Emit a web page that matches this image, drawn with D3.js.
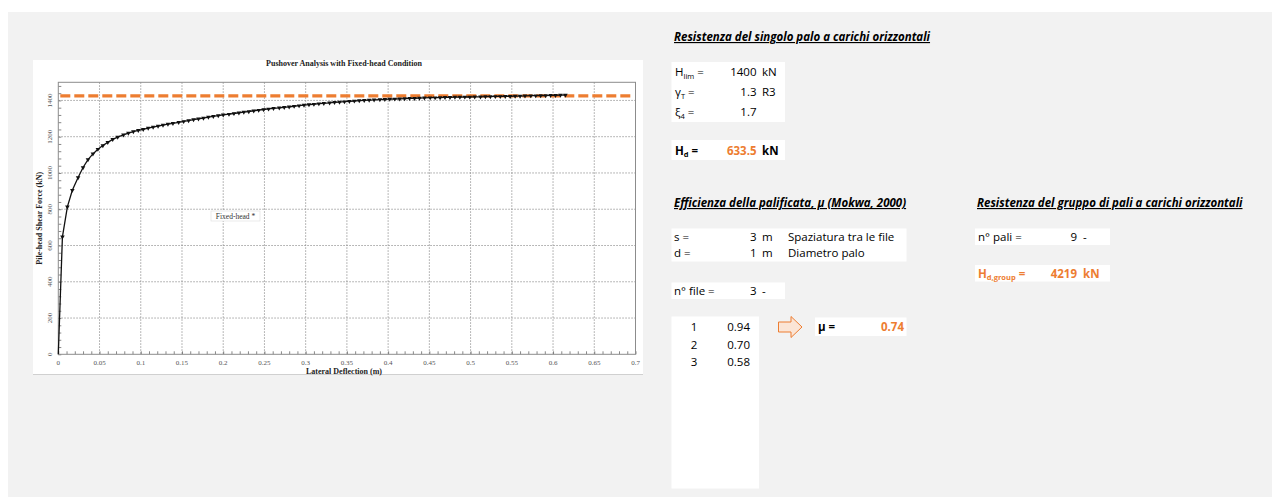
<!DOCTYPE html>
<html>
<head>
<meta charset="utf-8">
<script src="https://cdn.jsdelivr.net/npm/d3@7"></script>
<style>
  body { margin: 0; background: #ffffff; }
  svg { display: block; }
</style>
</head>
<body>
<div id="sheet"></div>
<script>
// pushover curve, lateral deflection (m) and pile-head shear force (kN)
var deflection = [0, 0.005, 0.011, 0.017, 0.024, 0.030, 0.036, 0.042, 0.048, 0.054, 0.060,
  0.066, 0.072, 0.079, 0.085, 0.091, 0.097, 0.103, 0.109, 0.115, 0.121, 0.127, 0.133,
  0.139, 0.146, 0.152, 0.158, 0.164, 0.170, 0.176, 0.182, 0.188, 0.194, 0.200, 0.207,
  0.213, 0.219, 0.225, 0.231, 0.237, 0.243, 0.249, 0.255, 0.261, 0.268, 0.274, 0.280,
  0.286, 0.292, 0.298, 0.304, 0.310, 0.316, 0.322, 0.329, 0.335, 0.341, 0.347, 0.353,
  0.359, 0.365, 0.371, 0.377, 0.383, 0.390, 0.396, 0.402, 0.408, 0.414, 0.420, 0.426,
  0.432, 0.438, 0.444, 0.451, 0.457, 0.463, 0.469, 0.475, 0.481, 0.487, 0.493, 0.499,
  0.505, 0.512, 0.518, 0.524, 0.530, 0.536, 0.542, 0.548, 0.554, 0.560, 0.566, 0.573,
  0.579, 0.585, 0.591, 0.597, 0.603, 0.609, 0.615];
var shearForce = [0, 648, 813, 905, 975, 1030, 1074, 1105, 1131, 1151, 1169,
  1185, 1198, 1210, 1220, 1228, 1235, 1241, 1247, 1253, 1258, 1264, 1269,
  1274, 1279, 1284, 1289, 1294, 1299, 1303, 1308, 1312, 1316, 1320, 1324,
  1328, 1332, 1336, 1339, 1343, 1346, 1350, 1353, 1356, 1359, 1362, 1365,
  1368, 1371, 1374, 1377, 1379, 1382, 1384, 1387, 1389, 1391, 1393, 1395,
  1397, 1399, 1400, 1402, 1403, 1405, 1406, 1407, 1408, 1409, 1410, 1411,
  1412, 1413, 1414, 1415, 1415, 1416, 1417, 1417, 1418, 1418, 1419, 1419,
  1420, 1420, 1421, 1421, 1422, 1422, 1423, 1423, 1424, 1424, 1425, 1426,
  1426, 1427, 1427, 1428, 1428, 1429, 1430];

// dashed orange limit line
var limitLine = 1425;

// axis ticks
var xTicks = [0, 0.05, 0.1, 0.15, 0.2, 0.25, 0.3, 0.35, 0.4, 0.45, 0.5, 0.55, 0.6, 0.65, 0.7];
var xTickLabels = ["0", "0.05", "0.1", "0.15", "0.2", "0.25", "0.3", "0.35", "0.4", "0.45", "0.5", "0.55", "0.6", "0.65", "0.7"];
var yTicks = [0, 200, 400, 600, 800, 1000, 1200, 1400];
var yTickLabels = ["0", "200", "400", "600", "800", "1000", "1200", "1400"];

// efficiency per row of piles
var rowNumbers = ["1", "2", "3"];
var rowEfficiency = ["0.94", "0.70", "0.58"];

var orange = "#ed7d31";
var serif = "'Liberation Serif', 'DejaVu Serif', serif";
var sans = "'Open Sans', Lato, sans-serif";

window.onload = function() {
  main();
};

function main() {
  var svg = d3.select("#sheet")
    .append("svg")
    .attr("width", 1280)
    .attr("height", 497);

  // grey spreadsheet background
  svg.append("rect")
    .attr("x", 8).attr("y", 12)
    .attr("width", 1264).attr("height", 485)
    .attr("fill", "#f2f2f2");

  makeChart(svg);
  makeTables(svg);
}

function makeChart(svg) {
  // white picture of the chart
  svg.append("rect")
    .attr("x", 33).attr("y", 60)
    .attr("width", 610).attr("height", 314)
    .attr("fill", "#ffffff");
  svg.append("line")
    .attr("x1", 33).attr("x2", 643)
    .attr("y1", 374.5).attr("y2", 374.5)
    .attr("stroke", "#d0d0d0");

  var x = d3.scaleLinear().domain([0, 0.7]).range([58.3, 635.5]);
  var y = d3.scaleLinear().domain([0, 1500]).range([354.3, 82.3]);

  // dotted grid
  var grid = svg.append("g");
  grid.selectAll(".vgrid")
    .data(xTicks.slice(1, -1))
    .enter().append("line")
    .attr("x1", d => x(d)).attr("x2", d => x(d))
    .attr("y1", y(1500)).attr("y2", y(0))
    .attr("stroke", "#8a8a8a").attr("stroke-width", 0.8)
    .attr("stroke-dasharray", "1.5,1.5");
  grid.selectAll(".hgrid")
    .data(yTicks.slice(1))
    .enter().append("line")
    .attr("x1", x(0)).attr("x2", x(0.7))
    .attr("y1", d => y(d)).attr("y2", d => y(d))
    .attr("stroke", "#8a8a8a").attr("stroke-width", 0.8)
    .attr("stroke-dasharray", "1.5,1.5");

  // inward minor ticks
  var xAxis = svg.append("g")
    .attr("transform", "translate(0," + y(0) + ")")
    .call(d3.axisBottom(x).ticks(70).tickSize(-3).tickFormat(""));
  var yAxis = svg.append("g")
    .attr("transform", "translate(" + x(0) + ",0)")
    .call(d3.axisLeft(y).tickValues(d3.range(0, 1500, 40)).tickSize(-3).tickFormat(""));
  [xAxis, yAxis].forEach(function(a) {
    a.select(".domain").remove();
    a.selectAll("line").attr("stroke", "#555").attr("stroke-width", 0.7);
  });

  // frame
  svg.append("rect")
    .attr("x", x(0)).attr("y", y(1500))
    .attr("width", x(0.7) - x(0)).attr("height", y(0) - y(1500))
    .attr("fill", "none")
    .attr("stroke", "#8c8c8c").attr("stroke-width", 1);

  // tick labels
  svg.append("g").selectAll("text")
    .data(xTicks)
    .enter().append("text")
    .attr("x", d => x(d)).attr("y", 364.5)
    .attr("text-anchor", "middle")
    .attr("font-family", serif).attr("font-size", 7)
    .attr("fill", "#555")
    .text((d, i) => xTickLabels[i]);
  svg.append("g").selectAll("text")
    .data(yTicks)
    .enter().append("text")
    .attr("transform", d => "translate(52," + y(d) + ") rotate(-90)")
    .attr("text-anchor", "middle")
    .attr("font-family", serif).attr("font-size", 7)
    .attr("fill", "#555")
    .text((d, i) => yTickLabels[i]);

  // titles
  svg.append("text")
    .attr("x", 344).attr("y", 66)
    .attr("text-anchor", "middle")
    .attr("font-family", serif).attr("font-size", 8).attr("font-weight", "bold")
    .attr("fill", "#222")
    .text("Pushover Analysis with Fixed-head Condition");
  svg.append("text")
    .attr("x", 344).attr("y", 373.5)
    .attr("text-anchor", "middle")
    .attr("font-family", serif).attr("font-size", 8).attr("font-weight", "bold")
    .attr("fill", "#222")
    .text("Lateral Deflection (m)");
  svg.append("text")
    .attr("transform", "translate(42," + y(750) + ") rotate(-90)")
    .attr("text-anchor", "middle")
    .attr("font-family", serif).attr("font-size", 8).attr("font-weight", "bold")
    .attr("fill", "#222")
    .text("Pile-head Shear Force  (kN)");

  // series label box
  svg.append("rect")
    .attr("x", 211).attr("y", 211)
    .attr("width", 49).attr("height", 10)
    .attr("fill", "#fff").attr("stroke", "#ddd").attr("stroke-width", 0.6);
  svg.append("text")
    .attr("x", 235.5).attr("y", 218.5)
    .attr("text-anchor", "middle")
    .attr("font-family", serif).attr("font-size", 7.5)
    .attr("fill", "#333")
    .text("Fixed-head *");

  // limit line
  svg.append("line")
    .attr("x1", x(0) + 2).attr("x2", x(0.695))
    .attr("y1", y(limitLine)).attr("y2", y(limitLine))
    .attr("stroke", orange).attr("stroke-width", 3.2)
    .attr("stroke-dasharray", "10,4");

  // curve and markers
  var points = deflection.map((d, i) => [d, shearForce[i]]);
  var line = d3.line()
    .x(d => x(d[0]))
    .y(d => y(d[1]));
  svg.append("path")
    .datum(points)
    .attr("d", line)
    .attr("fill", "none")
    .attr("stroke", "#111").attr("stroke-width", 1.3);
  var tri = d3.symbol().type(d3.symbolTriangle).size(9);
  svg.append("g").selectAll("path")
    .data(points.slice(1))
    .enter().append("path")
    .attr("d", tri)
    .attr("transform", d => "translate(" + x(d[0]) + "," + y(d[1]) + ") rotate(180)")
    .attr("fill", "#111");
}

function addText(svg, x, y, str, opts) {
  opts = opts || {};
  var t = svg.append("text")
    .attr("x", x).attr("y", y)
    .attr("font-family", sans)
    .attr("font-size", opts.size || 11.5)
    .attr("font-weight", opts.bold ? "bold" : "normal")
    .attr("font-style", opts.italic ? "italic" : "normal")
    .attr("text-anchor", opts.anchor || "start")
    .attr("fill", opts.color || "#000");
  if (opts.underline) t.attr("text-decoration", "underline");
  return t.text(str);
}

function addSub(svg, x, y, main, sub, opts) {
  // letter with a subscript
  var t = addText(svg, x, y, main, opts);
  t.append("tspan")
    .attr("font-size", 7.5).attr("dy", 2.5)
    .text(sub);
  t.append("tspan")
    .attr("dy", -2.5)
    .text(" =");
  return t;
}

function box(svg, x, y, w, h) {
  svg.append("rect")
    .attr("x", x).attr("y", y)
    .attr("width", w).attr("height", h)
    .attr("fill", "#ffffff");
}

function makeTables(svg) {
  // single pile
  addText(svg, 674, 41, "Resistenza del singolo palo a carichi orizzontali",
    {bold: true, italic: true, underline: true});
  box(svg, 671.5, 62, 113.5, 60);
  addSub(svg, 675, 76, "H", "lim");
  addSub(svg, 675, 96, "γ", "T");
  addSub(svg, 675, 116, "ξ", "4");
  addText(svg, 756.5, 76, "1400", {anchor: "end"});
  addText(svg, 756.5, 96, "1.3", {anchor: "end"});
  addText(svg, 756.5, 116, "1.7", {anchor: "end"});
  addText(svg, 762, 76, "kN");
  addText(svg, 762, 96, "R3");

  box(svg, 671.5, 140, 113.5, 20);
  addSub(svg, 675, 154.5, "H", "d", {bold: true});
  addText(svg, 756.5, 154.5, "633.5", {anchor: "end", bold: true, color: orange});
  addText(svg, 762, 154.5, "kN", {bold: true});

  // group efficiency
  addText(svg, 674, 207, "Efficienza della palificata,  μ (Mokwa, 2000)",
    {bold: true, italic: true, underline: true});
  box(svg, 671.5, 228.5, 235, 33);
  addText(svg, 674, 241, "s =");
  addText(svg, 674, 257, "d =");
  addText(svg, 756.5, 241, "3", {anchor: "end"});
  addText(svg, 756.5, 257, "1", {anchor: "end"});
  addText(svg, 762, 241, "m");
  addText(svg, 762, 257, "m");
  addText(svg, 788, 241, "Spaziatura tra le file");
  addText(svg, 788, 257, "Diametro palo");

  box(svg, 671.5, 282.5, 113.5, 16.5);
  addText(svg, 674, 295, "n° file =");
  addText(svg, 756.5, 295, "3", {anchor: "end"});
  addText(svg, 762, 295, "-");

  box(svg, 671.5, 316.5, 87.5, 172);
  rowNumbers.forEach(function(n, i) {
    addText(svg, 694, 331 + i * 17.5, n, {anchor: "middle"});
    addText(svg, 750, 331 + i * 17.5, rowEfficiency[i], {anchor: "end"});
  });

  // arrow
  svg.append("path")
    .attr("d", "M778.5,322 L791,322 L791,316.5 L802,327 L791,337.5 L791,332 L778.5,332 Z")
    .attr("fill", "#fbe5d6").attr("stroke", orange).attr("stroke-width", 1);

  box(svg, 815, 317.5, 91.5, 18.5);
  addText(svg, 818, 330.5, "μ =", {bold: true});
  addText(svg, 904, 330.5, "0.74", {anchor: "end", bold: true, color: orange});

  // pile group
  addText(svg, 977, 207, "Resistenza del gruppo di pali a carichi orizzontali",
    {bold: true, italic: true, underline: true});
  box(svg, 975, 228.5, 135, 16.5);
  addText(svg, 978, 241, "n° pali =");
  addText(svg, 1077, 241, "9", {anchor: "end"});
  addText(svg, 1083, 241, "-");

  box(svg, 975, 265, 135, 16.5);
  addSub(svg, 978, 277.5, "H", "d,group", {bold: true, color: orange});
  addText(svg, 1077, 277.5, "4219", {anchor: "end", bold: true, color: orange});
  addText(svg, 1083, 277.5, "kN", {bold: true, color: orange});
}
</script>
</body>
</html>
